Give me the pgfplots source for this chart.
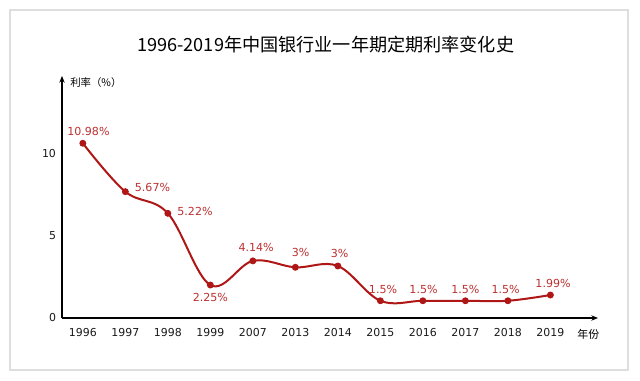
\documentclass[border=0pt]{standalone}
\usepackage{pgfplots}
\pgfplotsset{compat=1.18}
\usetikzlibrary{arrows.meta}
\usepackage{fontspec}
\setmainfont{DejaVu Sans}
\newfontfamily\cjk{Noto Sans CJK SC}
\definecolor{linered}{RGB}{175,22,22}
\definecolor{labelred}{RGB}{188,48,48}
\begin{document}
\begin{tikzpicture}
\path[use as bounding box] (0,0) rectangle (480pt,285.75pt);
\draw[black!13, line width=1pt] (7.5pt,8.25pt) rectangle (471pt,278.25pt);
\node[font=\cjk\fontsize{13.6}{16}\selectfont] at (244.3pt,252pt) {1996-2019年中国银行业一年期定期利率变化史};
\node[anchor=west, font=\cjk\fontsize{7.8}{9}\selectfont, inner sep=0pt] at (52.5pt,223.7pt) {利率（\%）};
\node[font=\cjk\fontsize{8.2}{9}\selectfont, inner sep=0pt] at (441.2pt,35pt) {年份};
\begin{axis}[
  at={(46.5pt,47.25pt)}, anchor=south west,
  scale only axis, width=402pt, height=181.5pt,
  xmin=-0.49, xmax=12.12, ymin=0, ymax=14.75,
  axis lines=left,
  axis line style={line width=1.2pt, -{Stealth[length=5pt,width=4pt]}},
  major tick length=0pt,
  ytick={0,5,10},
  xtick={0,1,2,3,4,5,6,7,8,9,10,11},
  xticklabels={1996,1997,1998,1999,2007,2013,2014,2015,2016,2017,2018,2019},
  tick label style={font=\fontsize{8.2}{9}\selectfont, text=black!90},
  xticklabel style={yshift=-4pt},
  yticklabel style={xshift=-1pt},
  /pgf/number format/assume math mode=true,
  clip=false,
]
\addplot[linered, line width=1.5pt, smooth, tension=0.6, mark=*, mark size=1.8pt, mark options={fill=linered, draw=linered}]
  coordinates {(0,10.65) (1,7.70) (2,6.38) (3,2.01) (4,3.48) (5,3.09) (6,3.17) (7,1.05) (8,1.05) (9,1.05) (10,1.05) (11,1.40)};
\begin{scope}[every node/.style={text=labelred, font=\fontsize{8.3}{9}\selectfont, inner sep=0pt}]
\node[xshift=4.2pt, yshift=8.5pt] at (axis cs:0,10.65) {10.98\%};
\node[anchor=west, xshift=7pt, yshift=3.3pt] at (axis cs:1,7.70) {5.67\%};
\node[anchor=west, xshift=7pt, yshift=1.7pt] at (axis cs:2,6.38) {5.22\%};
\node[yshift=-9.5pt] at (axis cs:3,2.01) {2.25\%};
\node[xshift=2.5pt, yshift=10pt] at (axis cs:4,3.48) {4.14\%};
\node[xshift=4pt, yshift=11pt] at (axis cs:5,3.09) {3\%};
\node[xshift=1.3pt, yshift=9.5pt] at (axis cs:6,3.17) {3\%};
\node[xshift=2pt, yshift=8.8pt] at (axis cs:7,1.05) {1.5\%};
\node[xshift=0.5pt, yshift=8.8pt] at (axis cs:8,1.05) {1.5\%};
\node[xshift=0pt, yshift=8.8pt] at (axis cs:9,1.05) {1.5\%};
\node[xshift=-1.7pt, yshift=8.8pt] at (axis cs:10,1.05) {1.5\%};
\node[xshift=2pt, yshift=8.8pt] at (axis cs:11,1.40) {1.99\%};
\end{scope}
\end{axis}
\end{tikzpicture}
\end{document}
